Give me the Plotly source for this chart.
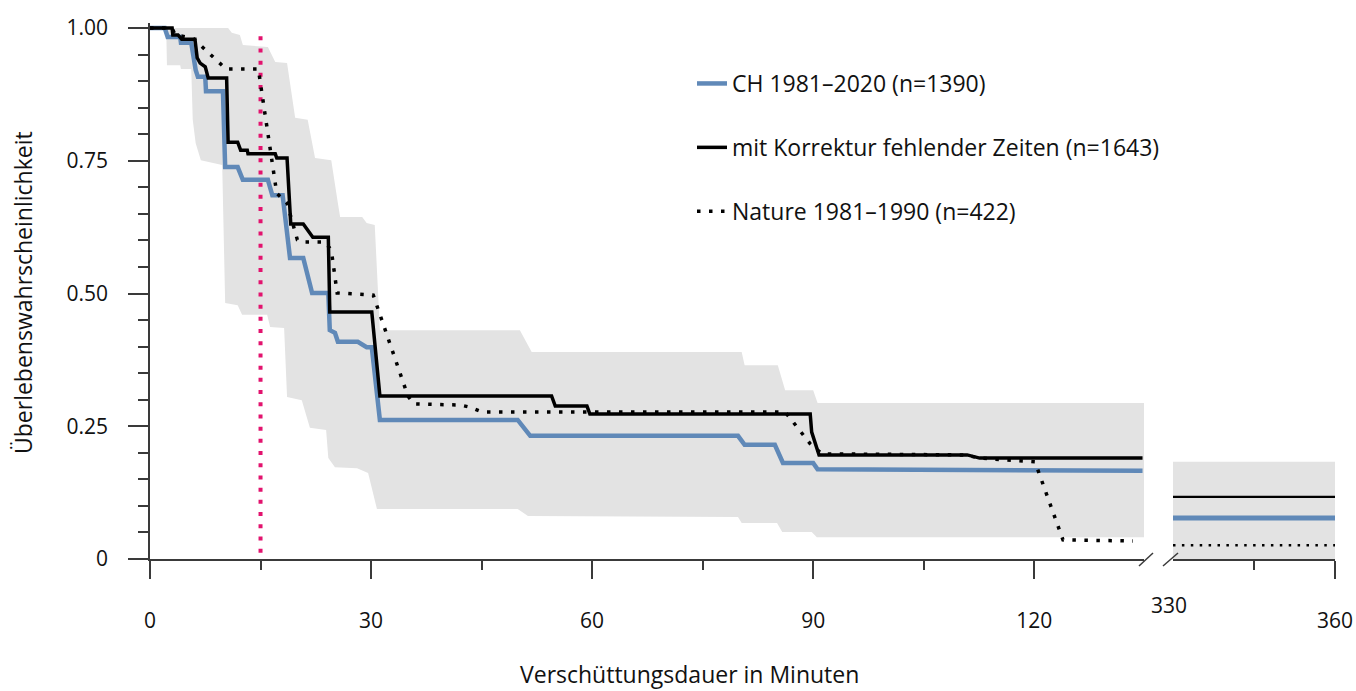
import plotly.graph_objects as go

# ---------------- data (minutes, survival probability) ----------------
ch_t = [0, 2.0, 2.4, 4.1, 4.2, 5.6, 6.2, 6.5, 7.5, 7.6, 9.9, 10.2, 11.9, 12.6, 16.0, 16.6,
        18.0, 19.0, 20.8, 22.0, 24.2, 24.4, 25.1, 25.5, 28.2, 29.4, 30.1, 31.2, 49.9, 51.6,
        79.8, 80.7, 84.8, 85.9, 90.0, 90.6, 134.7]
ch_s = [1.0, 1.0, 0.983, 0.983, 0.972, 0.972, 0.921, 0.908, 0.908, 0.881, 0.881, 0.738, 0.738,
        0.714, 0.714, 0.685, 0.685, 0.567, 0.567, 0.501, 0.501, 0.431, 0.426, 0.409, 0.409,
        0.399, 0.399, 0.262, 0.262, 0.232, 0.232, 0.215, 0.215, 0.181, 0.181, 0.169, 0.166]

kor_t = [0, 3.0, 3.1, 3.8, 4.3, 6.1, 6.4, 6.8, 7.5, 7.9, 10.4, 10.6, 11.9, 12.3, 13.2, 13.3,
         17.0, 17.2, 18.6, 19.1, 20.8, 22.1, 24.2, 24.4, 30.1, 31.2, 54.5, 55.0, 59.3, 59.7,
         89.6, 89.8, 90.8, 110.9, 112.6, 134.7]
kor_s = [1.0, 1.0, 0.987, 0.987, 0.979, 0.979, 0.944, 0.934, 0.927, 0.906, 0.906, 0.785, 0.785,
         0.770, 0.770, 0.763, 0.763, 0.755, 0.755, 0.631, 0.631, 0.606, 0.606, 0.465, 0.465,
         0.307, 0.307, 0.288, 0.288, 0.273, 0.273, 0.239, 0.196, 0.196, 0.190, 0.190]

nat_t = [0, 3.0, 3.4, 5.8, 10.3, 14.7, 17.2, 18.6, 20.0, 20.6, 23.7, 24.6, 25.4, 30.3, 35.0,
         35.8, 42.1, 43.4, 45.0, 86.2, 89.6, 91.2, 110.6, 112.6, 120.1, 123.9, 133.4]
nat_s = [1.0, 1.0, 0.987, 0.981, 0.923, 0.923, 0.689, 0.670, 0.601, 0.597, 0.597, 0.582, 0.501,
         0.497, 0.307, 0.292, 0.290, 0.286, 0.277, 0.277, 0.217, 0.198, 0.196, 0.190, 0.183,
         0.036, 0.034]

band_up_t = [0, 10.6, 11.1, 12.2, 12.6, 16.0, 17.0, 18.6, 19.7, 21.4, 22.4, 24.6, 25.5, 25.8,
             28.8, 29.4, 30.5, 31.2, 50.2, 51.8, 80.3, 80.7, 85.2, 86.2, 90.0, 90.6, 134.9]
band_up_s = [1.0, 1.0, 0.991, 0.987, 0.968, 0.964, 0.936, 0.934, 0.831, 0.827, 0.755, 0.751,
             0.670, 0.644, 0.644, 0.633, 0.629, 0.431, 0.431, 0.390, 0.390, 0.365, 0.365,
             0.318, 0.318, 0.294, 0.294]
band_lo_t = [0, 2.2, 2.3, 4.1, 4.2, 5.6, 5.8, 6.2, 6.9, 9.8, 10.2, 11.9, 12.5, 15.9, 16.3, 18.2,
             18.6, 20.6, 21.7, 23.9, 24.2, 25.1, 28.1, 29.6, 30.8, 49.9, 51.3, 79.8, 80.3, 85.1,
             85.8, 89.8, 90.5, 134.9]
band_lo_s = [1.0, 1.0, 0.930, 0.930, 0.923, 0.923, 0.827, 0.783, 0.751, 0.742, 0.482, 0.478,
             0.460, 0.460, 0.437, 0.435, 0.305, 0.299, 0.247, 0.243, 0.190, 0.173, 0.171, 0.162,
             0.094, 0.094, 0.081, 0.079, 0.068, 0.068, 0.051, 0.051, 0.041, 0.041]

# right panel (330-360 min)
late_t = [330, 360]
ch_late = [0.077, 0.077]
kor_late = [0.117, 0.117]
nat_late = [0.026, 0.026]
band_late_up = [0.183, 0.183]
band_late_lo = [0.0, 0.0]

ref_t = [15, 15]          # 15-minute reference
ref_s = [0.012, 1.0]

x_ticks = [0, 30, 60, 90, 120]
x_minor = [15, 45, 75, 105]
y_ticks = [0, 0.25, 0.5, 0.75, 1.0]
y_ticktext = ["0", "0.25", "0.50", "0.75", "1.00"]
y_minor = [0.05, 0.1, 0.15, 0.2, 0.3, 0.35, 0.4, 0.45, 0.55, 0.6, 0.65, 0.7, 0.8, 0.85, 0.9, 0.95]

labels = ["CH 1981–2020 (n=1390)", "mit Korrektur fehlender Zeiten (n=1643)",
          "Nature 1981–1990 (n=422)"]

# ---------------- styles ----------------
BLUE = "#6089B8"
BLACK = "#000000"
BAND = "#E3E3E3"
PINK = "#E2136E"
AXIS = "#3A3A3A"
TXT = "#111111"
FONT = "Open Sans"
FS_TICK = 21
FS_TXT = 23

fig = go.Figure()

fig.add_trace(go.Scatter(x=band_up_t + band_lo_t[::-1], y=band_up_s + band_lo_s[::-1],
                         fill="toself", fillcolor=BAND, line=dict(width=0), mode="lines",
                         hoverinfo="skip", showlegend=False, xaxis="x", yaxis="y"))
fig.add_trace(go.Scatter(x=late_t + late_t[::-1], y=band_late_up + band_late_lo[::-1],
                         fill="toself", fillcolor=BAND, line=dict(width=0), mode="lines",
                         hoverinfo="skip", showlegend=False, xaxis="x2", yaxis="y"))

fig.add_trace(go.Scatter(x=ref_t, y=ref_s, mode="lines",
                         line=dict(color=PINK, width=4, dash="4px,8.2px"),
                         showlegend=False, xaxis="x", yaxis="y"))

fig.add_trace(go.Scatter(x=ch_t, y=ch_s, mode="lines", name=labels[0], legendgroup="a",
                         legendrank=1,
                         line=dict(color=BLUE, width=4.5), xaxis="x", yaxis="y"))
fig.add_trace(go.Scatter(x=nat_t, y=nat_s, mode="lines", name=labels[2], legendgroup="c",
                         legendrank=3,
                         line=dict(color=BLACK, width=3.5, dash="3.5px,8.5px"), xaxis="x", yaxis="y"))
fig.add_trace(go.Scatter(x=kor_t, y=kor_s, mode="lines", name=labels[1], legendgroup="b",
                         legendrank=2,
                         line=dict(color=BLACK, width=3.5), xaxis="x", yaxis="y"))

fig.add_trace(go.Scatter(x=late_t, y=kor_late, mode="lines", showlegend=False,
                         line=dict(color=BLACK, width=2.2), xaxis="x2", yaxis="y"))
fig.add_trace(go.Scatter(x=late_t, y=ch_late, mode="lines", showlegend=False,
                         line=dict(color=BLUE, width=5), xaxis="x2", yaxis="y"))
fig.add_trace(go.Scatter(x=late_t, y=nat_late, mode="lines", showlegend=False,
                         line=dict(color=BLACK, width=2.5, dash="2.5px,6.4px"), xaxis="x2", yaxis="y"))

W, H = 1356, 691
ML, MR, MT, MB = 150, 21, 23, 132
PW = W - ML - MR
PH = H - MT - MB


def px_x(p):
    return (p - ML) / PW


def px_y(p):
    return (H - MB - p) / PH


axis_common = dict(showline=True, linecolor=AXIS, linewidth=1.5, ticks="outside",
                   tickcolor=AXIS, tickwidth=1.5, showgrid=False, zeroline=False,
                   automargin=False,
                   tickfont=dict(family=FONT, size=FS_TICK, color=TXT))

fig.update_layout(
    width=W, height=H,
    margin=dict(l=ML, r=MR, t=MT, b=MB, autoexpand=False),
    plot_bgcolor="white", paper_bgcolor="white",
    font=dict(family=FONT, size=FS_TXT, color=TXT),
    xaxis=dict(domain=[0, px_x(1144)], range=[0, 134.9], tickvals=x_ticks, ticklen=18,
               ticklabelstandoff=24,
               minor=dict(tickvals=x_minor, ticklen=9, ticks="outside", tickcolor=AXIS,
                          tickwidth=1.5),
               anchor="y", **axis_common),
    xaxis2=dict(domain=[px_x(1173), 1], range=[330, 360], tickvals=[360], ticklen=18,
                ticklabelstandoff=24,
                minor=dict(tickvals=[345], ticklen=9, ticks="outside", tickcolor=AXIS,
                           tickwidth=1.5),
                anchor="y", **axis_common),
    yaxis=dict(domain=[0, 1], range=[0, PH / 531], tickvals=y_ticks, ticktext=y_ticktext,
               ticklen=20, ticklabelstandoff=16,
               minor=dict(tickvals=y_minor, ticklen=10, ticks="outside", tickcolor=AXIS,
                          tickwidth=1.5),
               anchor="x", **axis_common),
    legend=dict(x=px_x(692), y=px_y(62), xanchor="left", yanchor="top",
                bgcolor="rgba(0,0,0,0)", tracegroupgap=31, traceorder="grouped",
                font=dict(family=FONT, size=FS_TXT, color=TXT)),
    showlegend=True,
)

fig.add_annotation(text="Verschüttungsdauer in Minuten", xref="paper", yref="paper",
                   x=px_x(689.5), y=px_y(674), showarrow=False, xanchor="center",
                   yanchor="middle", font=dict(family=FONT, size=FS_TXT, color=TXT))
fig.add_annotation(text="Überlebenswahrscheinlichkeit", xref="paper", yref="paper",
                   x=px_x(23), y=px_y(293), showarrow=False, textangle=-90,
                   xanchor="center", yanchor="middle",
                   font=dict(family=FONT, size=FS_TXT, color=TXT))
fig.add_annotation(text="330", xref="x2", yref="paper", x=330, xshift=-4, y=px_y(605),
                   showarrow=False, xanchor="center", yanchor="middle",
                   font=dict(family=FONT, size=FS_TICK, color=TXT))

# axis-break marks
for x0, x1 in [(1139, 1153), (1163, 1178)]:
    fig.add_shape(type="line", xref="paper", yref="paper", x0=px_x(x0), x1=px_x(x1),
                  y0=px_y(566), y1=px_y(553), line=dict(color=AXIS, width=1.5))

# remove the browser's default page margin so the figure fills the window exactly
fig.write_html("out.html", config={"displayModeBar": False},
               post_script="document.body.style.margin='0';document.body.style.overflow='hidden';")
